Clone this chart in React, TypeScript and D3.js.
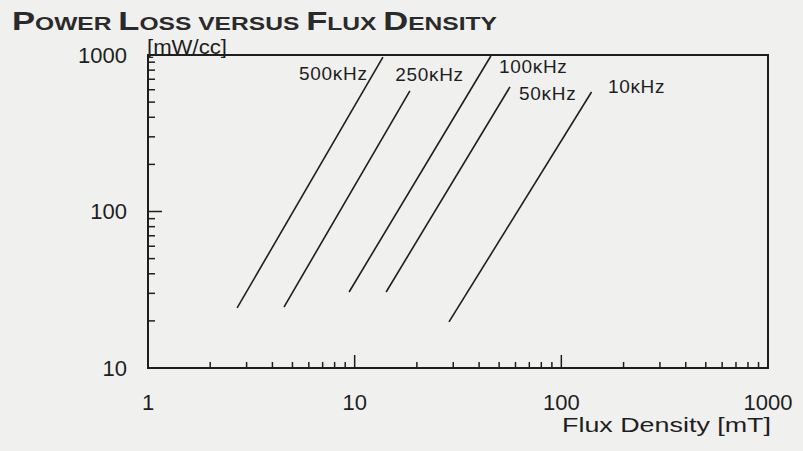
import React from 'react';
import * as d3 from 'd3';

// frequency curves (flux density in mT, power loss in mW/cc)
const freqLabels = ['500κHz', '250κHz', '100κHz', '50κHz', '10κHz'];
const fluxStart = [2.7, 4.55, 9.4, 14.2, 28.6];
const fluxEnd = [13.7, 18.5, 45.6, 56.4, 140];
const lossStart = [24.2, 24.5, 30.6, 30.6, 19.7];
const lossEnd = [970, 590, 985, 625, 580];
// where each curve label sits (data coords)
const labelFlux = [5.38, 15.7, 49.9, 62.4, 168];
const labelLoss = [692, 682, 767, 516, 572];

const xTicks = [1, 10, 100, 1000];
const yTicks = [10, 100, 1000];

const W = 803;
const H = 451;
const ink = '#1e1e1e';
const font = '"Liberation Sans", Arial, sans-serif';

const App = () => {
  const x = d3.scaleLog().domain([1, 1000]).range([148, 768]);
  const y = d3.scaleLog().domain([10, 1000]).range([368, 55]);

  const line = d3
    .line<[number, number]>()
    .x(d => x(d[0]))
    .y(d => y(d[1]));

  const xMinor = x.ticks().filter(v => v > 1 && v < 1000);
  const yMinor = y.ticks().filter(v => v > 10 && v < 1000);
  const isMajor = (v: number) => Math.abs(Math.log10(v) - Math.round(Math.log10(v))) < 1e-9;

  const big = 26;
  const small = 18.5;

  return (
    <div style={{ position: 'fixed', left: 0, top: 0 }}>
      <svg width={W} height={H} style={{ display: 'block' }}>
        <rect width={W} height={H} fill="#f0f0ee" />

        {/* title */}
        <text
          x={12}
          y={30}
          fontFamily={font}
          fontWeight="bold"
          fill="#2a2a2a"
          textLength={485}
          lengthAdjust="spacingAndGlyphs"
        >
          <tspan fontSize={big}>P</tspan>
          <tspan fontSize={small}>OWER </tspan>
          <tspan fontSize={big}>L</tspan>
          <tspan fontSize={small}>OSS VERSUS </tspan>
          <tspan fontSize={big}>F</tspan>
          <tspan fontSize={small}>LUX </tspan>
          <tspan fontSize={big}>D</tspan>
          <tspan fontSize={small}>ENSITY</tspan>
        </text>

        {/* frame */}
        <rect
          x={x(1)}
          y={y(1000)}
          width={x(1000) - x(1)}
          height={y(10) - y(1000)}
          fill="none"
          stroke={ink}
          strokeWidth={2}
        />

        {/* minor / major ticks, inside */}
        {xMinor.map(v => (
          <line
            key={'xt' + v}
            x1={x(v)}
            x2={x(v)}
            y1={y(10)}
            y2={y(10) - (isMajor(v) ? 13 : 6)}
            stroke={ink}
            strokeWidth={1.5}
          />
        ))}
        {yMinor.map(v => (
          <line
            key={'yt' + v}
            x1={x(1)}
            x2={x(1) + (isMajor(v) ? 14 : 7)}
            y1={y(v)}
            y2={y(v)}
            stroke={ink}
            strokeWidth={1.5}
          />
        ))}

        {/* tick labels */}
        {xTicks.map(v => (
          <text
            key={'xl' + v}
            x={x(v)}
            y={410}
            textAnchor="middle"
            fontFamily={font}
            fontSize={22}
            fill={ink}
          >
            {v}
          </text>
        ))}
        {yTicks.map(v => (
          <text
            key={'yl' + v}
            x={127}
            y={y(v)}
            dy="0.36em"
            textAnchor="end"
            fontFamily={font}
            fontSize={22}
            fill={ink}
          >
            {v}
          </text>
        ))}

        {/* axis titles */}
        <text
          x={147}
          y={54}
          fontFamily={font}
          fontSize={20}
          fill={ink}
          textLength={80}
          lengthAdjust="spacingAndGlyphs"
        >
          [mW/cc]
        </text>
        <text
          x={562}
          y={432}
          fontFamily={font}
          fontSize={21}
          fill={ink}
          textLength={209}
          lengthAdjust="spacingAndGlyphs"
        >
          Flux Density [mT]
        </text>

        {/* curves */}
        {freqLabels.map((f, i) => (
          <g key={f}>
            <path
              d={line([
                [fluxStart[i], lossStart[i]],
                [fluxEnd[i], lossEnd[i]],
              ]) as string}
              fill="none"
              stroke={ink}
              strokeWidth={1.6}
            />
            <text
              x={x(labelFlux[i])}
              y={y(labelLoss[i])}
              fontFamily={font}
              fontSize={19}
              letterSpacing={0.7}
              fill={ink}
            >
              {f}
            </text>
          </g>
        ))}
      </svg>
    </div>
  );
};

export default App;
